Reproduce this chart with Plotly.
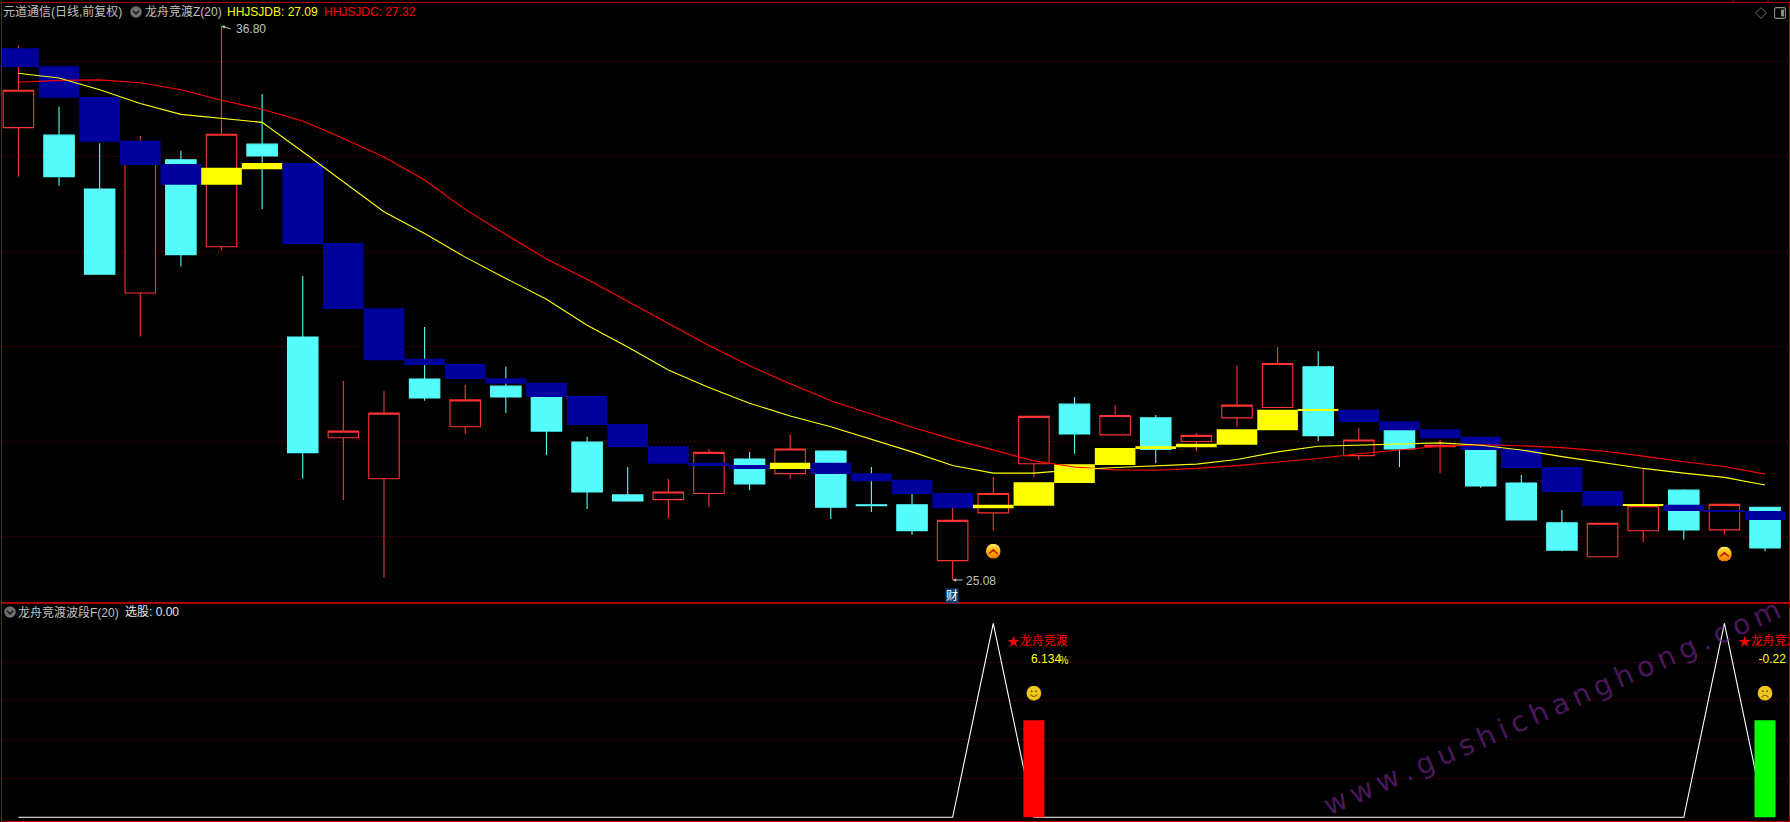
import base64
import plotly.graph_objects as go

W, H = 1790, 822

# ---- daily bars (index = trading day) ----
days = list(range(44))
opens = [34.65,34.49,33.35,31.15,33.97,32.13,34.30,30.22,28.09,27.22,29.33,28.32,29.18,29.10,28.00,26.88,26.78,26.91,27.64,27.33,27.81,26.67,26.67,25.49,26.50,27.54,28.80,28.15,28.51,28.01,28.51,28.73,29.59,27.71,28.25,27.90,27.94,27.13,26.29,25.57,26.12,26.98,26.14,26.62]
highs = [36.38,35.09,34.32,34.47,34.16,36.80,35.36,31.51,29.29,29.08,30.43,29.21,29.59,29.20,28.11,27.47,27.22,27.85,27.79,28.15,27.81,27.47,26.98,26.77,27.26,28.54,28.95,28.78,28.57,28.19,29.61,30.01,29.92,28.30,28.25,28.04,27.94,27.30,26.56,26.28,27.43,27.00,26.68,26.62]
lows = [33.61,33.42,31.55,30.23,31.71,32.05,32.93,27.22,26.77,25.13,28.87,28.17,28.61,27.72,26.58,26.75,26.39,26.62,26.98,27.22,26.37,26.52,26.03,25.08,26.12,27.26,27.75,28.15,27.55,27.81,28.32,28.73,28.02,27.62,27.47,27.34,27.03,26.35,25.69,25.57,25.88,25.93,26.05,25.69]
closes = [35.44,33.61,31.55,34.18,31.96,34.51,34.05,27.77,28.23,28.61,28.93,28.89,28.95,28.23,26.94,26.75,26.94,27.78,27.11,27.85,26.62,26.65,26.12,26.34,26.91,28.54,28.17,28.56,27.84,28.14,28.78,29.66,28.13,28.04,27.85,27.93,27.07,26.35,25.71,26.28,26.65,26.14,26.68,25.76]

# ---- indicator blocks (channel top / bottom, state) ----
block_top = [36.33,35.95,35.30,34.37,33.88,33.80,33.90,33.90,32.21,30.83,29.76,29.65,29.35,29.25,28.97,28.38,27.91,27.56,27.51,27.56,27.56,27.34,27.20,26.92,26.67,27.15,27.53,27.87,27.91,27.96,28.27,28.68,28.68,28.68,28.44,28.27,28.11,27.85,27.47,26.96,26.67,26.67,26.56,26.54]
block_bottom = [35.93,35.28,34.35,33.86,33.44,33.44,33.77,32.19,30.81,29.73,29.63,29.33,29.23,28.95,28.36,27.89,27.54,27.49,27.43,27.43,27.32,27.17,26.90,26.60,26.60,26.65,27.13,27.51,27.85,27.89,27.94,28.25,28.66,28.42,28.25,28.08,27.83,27.45,26.94,26.65,26.65,26.54,26.52,26.35]
block_up = [5,6,19,24,25,26,27,28,29,30,31,32,40]

# ---- moving lines ----
hhjsjdb = [35.80,35.70,35.45,35.16,34.93,34.85,34.76,34.14,33.51,32.87,32.41,31.91,31.46,31.02,30.47,30.01,29.52,29.15,28.82,28.55,28.32,28.06,27.79,27.50,27.34,27.34,27.41,27.46,27.49,27.53,27.63,27.79,27.91,27.93,27.96,27.98,27.93,27.83,27.69,27.56,27.44,27.34,27.25,27.09]
hhjsjdc = [35.61,35.65,35.66,35.60,35.45,35.23,35.04,34.79,34.42,34.03,33.54,32.92,32.39,31.87,31.44,30.97,30.50,30.04,29.61,29.23,28.87,28.59,28.31,28.06,27.83,27.60,27.47,27.41,27.40,27.44,27.50,27.57,27.65,27.75,27.83,27.91,27.94,27.92,27.88,27.81,27.70,27.58,27.48,27.32]
price_grid = [36.05,34.04,32.03,30.02,28.01,26.00]

# ---- lower panel ----
wave = [0]*44
wave[24] = 100
wave[42] = 100
signal_days = [25,43]
signal_vals = [50,50]
signal_colors = ["#FF0000","#00FF00"]
signal_pct = ["6.134","-0.22"]
lower_grid = [20,40,60,80]

GRID = "#8E0000"
BORDER = "#B00000"
GREY = "#C0C0C0"
BLUE = "#00009C"
YEL = "#FFFF00"
CYAN = "#54FCFC"
RED = "#FF3232"
FONT = "Liberation Sans, Noto Sans CJK SC"
LW = 1.1

x_range = [-0.404, 43.59]
main_range = [24.593, 37.286]
low_range = [-1.91, 110.46]

def svg(body, w=14, h=14):
    s = f'<svg xmlns="http://www.w3.org/2000/svg" width="{w*4}" height="{h*4}" viewBox="0 0 {w} {h}">{body}</svg>'
    return "data:image/svg+xml;base64," + base64.b64encode(s.encode()).decode()

grad = '<defs><linearGradient id="g" x1="0" y1="0" x2="0" y2="1"><stop offset="0" stop-color="#FFE868"/><stop offset="0.55" stop-color="#FFB000"/><stop offset="1" stop-color="#F07800"/></linearGradient></defs>'
coin = svg(grad + '<ellipse cx="7" cy="7" rx="6.8" ry="7" fill="url(#g)"/><path d="M2.6 9 L7 4.8 L11.4 9 L11.4 10.4 L7 7.2 L2.6 10.4 Z" fill="#C81808"/>')
faceb = '<circle cx="7" cy="7" r="6.8" fill="#F2C81E" stroke="#C89A10" stroke-width="0.5"/><circle cx="5" cy="5.2" r="0.9" fill="#7A5A00"/><circle cx="9" cy="5.2" r="0.9" fill="#7A5A00"/>'
smile = svg(faceb + '<path d="M3.8 8.2 Q7 12 10.2 8.2" stroke="#7A5A00" stroke-width="1" fill="none"/>')
frown = svg(faceb + '<path d="M3.8 11 Q7 7 10.2 11" stroke="#7A5A00" stroke-width="1.1" fill="none"/>')
drop = svg('<circle cx="6" cy="6" r="5.8" fill="#6E6E6E"/><path d="M3 4.8 L6 7.8 L9 4.8" stroke="#1C1C1C" stroke-width="1.6" fill="none"/>', 12, 12)
diamond = svg('<path d="M6 0.6 L11.4 6 L6 11.4 L0.6 6 Z" stroke="#8A8A8A" stroke-width="0.8" fill="none"/>', 12, 12)
panel = svg('<rect x="0.6" y="0.6" width="10.8" height="10.8" rx="1.6" stroke="#8A8A8A" stroke-width="1.1" fill="none"/><rect x="7" y="2.6" width="3" height="6.8" fill="#8A8A8A"/>', 12, 12)

fig = go.Figure()

fig.add_trace(go.Candlestick(
    x=days, open=opens, high=highs, low=lows, close=closes,
    xaxis="x", yaxis="y", whiskerwidth=0,
    increasing=dict(line=dict(color=RED, width=LW), fillcolor="#000000"),
    decreasing=dict(line=dict(color=CYAN, width=LW), fillcolor=CYAN),
))
fig.add_trace(go.Bar(
    x=days,
    y=[t - b for t, b in zip(block_top, block_bottom)],
    base=block_bottom, width=1,
    marker=dict(color=[YEL if d in block_up else BLUE for d in days], line=dict(width=0)),
    xaxis="x", yaxis="y2",
))
fig.add_trace(go.Scatter(x=days, y=hhjsjdc, mode="lines", line=dict(color="#FF0000", width=LW), xaxis="x", yaxis="y2"))
fig.add_trace(go.Scatter(x=days, y=hhjsjdb, mode="lines", line=dict(color=YEL, width=LW), xaxis="x", yaxis="y2"))

fig.add_trace(go.Scatter(x=days, y=wave, mode="lines", line=dict(color="#FFFFFF", width=LW), xaxis="x2", yaxis="y3"))
fig.add_trace(go.Bar(x=signal_days, y=signal_vals, width=0.517,
                     marker=dict(color=signal_colors, line=dict(width=0)), xaxis="x2", yaxis="y4"))
fig.add_trace(go.Scatter(x=[d - 0.5 for d in signal_days], y=[90.4]*2, mode="markers",
                         marker=dict(symbol="star", size=9, color="#FF0000"), xaxis="x2", yaxis="y4"))
fig.add_trace(go.Scatter(x=[d - 0.35 for d in signal_days], y=[90.4]*2, mode="text",
                         text=["龙舟竞渡"]*2, textposition="middle right",
                         textfont=dict(color="#FF0000", size=12, family=FONT), xaxis="x2", yaxis="y4"))
fig.add_trace(go.Scatter(x=[24.93, 42.84], y=[81]*2, mode="text",
                         text=signal_pct, textposition="middle right",
                         textfont=dict(color=YEL, size=12, family=FONT), xaxis="x2", yaxis="y4"))
fig.add_trace(go.Scatter(x=[25.63], y=[80.5], mode="text", text=["%"], textposition="middle right",
                         textfont=dict(color=YEL, size=10, family=FONT), xaxis="x2", yaxis="y4"))

def px_x(v): return v / W
def px_y(v): return 1 - v / H

def label(px, py, text, color=GREY, size=12):
    return dict(x=px_x(px), y=px_y(py), xref="paper", yref="paper", text=text, showarrow=False,
                xanchor="left", yanchor="middle", borderpad=0, borderwidth=0,
                font=dict(color=color, size=size, family=FONT))

annotations = [
    label(3, 12, "元道通信(日线,前复权)"),
    label(145, 12, "龙舟竞渡Z(20)"),
    label(227, 12, f"HHJSJDB: {hhjsjdb[-1]:.2f}", YEL),
    label(324, 12, f"HHJSJDC: {hhjsjdc[-1]:.2f}", "#FF0000"),
    label(18, 612, "龙舟竞渡波段F(20)"),
    label(125, 612, "选股: 0.00", "#E8E8E8"),
    dict(x=5, y=36.80, xref="x", yref="y", ax=12, ay=4, text=" ", showarrow=True, arrowhead=2,
         arrowsize=0.7, arrowwidth=1, arrowcolor=GREY),
    dict(x=23, y=25.08, xref="x", yref="y", ax=13, ay=0, text=" ", showarrow=True, arrowhead=2,
         arrowsize=0.7, arrowwidth=1, arrowcolor=GREY),
    dict(x=5.34, y=36.74, xref="x", yref="y", text="36.80", showarrow=False, xanchor="left", yanchor="middle",
         borderpad=0, font=dict(color=GREY, size=12, family=FONT)),
    dict(x=23.3, y=25.06, xref="x", yref="y", text="25.08", showarrow=False, xanchor="left", yanchor="middle",
         borderpad=0, font=dict(color=GREY, size=12, family=FONT)),
    dict(x=22.98, y=24.74, xref="x", yref="y", text="财", showarrow=False, xanchor="center", yanchor="middle",
         borderpad=0, bgcolor="#10406E", font=dict(color="#FFFFFF", size=12, family=FONT)),
    dict(x=px_x(1552), y=px_y(707), xref="paper", yref="paper", showarrow=False, textangle=-23.7,
         xanchor="center", yanchor="middle",
         text="\u2009".join("www.gushichanghong.com"),
         font=dict(color="rgba(125,40,155,0.6)", size=28, family="DejaVu Sans")),
]

def image(src, x, y, sx, sy, xref="paper", yref="paper"):
    return dict(source=src, x=x, y=y, sizex=sx, sizey=sy, xref=xref, yref=yref,
                xanchor="center", yanchor="middle", sizing="stretch", layer="above")

images = [
    image(drop, px_x(136), px_y(12), 12/W, 12/H),
    image(drop, px_x(10), px_y(612), 12/W, 12/H),
    image(diamond, px_x(1761), px_y(13), 12/W, 12/H),
    image(panel, px_x(1780), px_y(13), 12/W, 12/H),
    image(coin, 24, 25.69, 15/40.6, 15/47.27, "x", "y"),
    image(coin, 42, 25.63, 15/40.6, 15/47.27, "x", "y"),
    image(smile, 25, 64, 15/40.6, 15/1.94, "x2", "y3"),
    image(frown, 43, 64, 15/40.6, 15/1.94, "x2", "y3"),
]

axis_common = dict(showline=True, mirror=True, linecolor=BORDER, linewidth=1, ticks="",
                   showticklabels=False, zeroline=False, fixedrange=True)
x_dom = [2/W, 1789/W]

fig.update_layout(
    width=W, height=H,
    margin=dict(l=0, r=0, t=0, b=0),
    paper_bgcolor="#000000", plot_bgcolor="#000000",
    showlegend=False, hovermode=False, barmode="overlay",
    boxgap=0.25, boxgroupgap=0,
    annotations=annotations, images=images,
    shapes=[
        dict(type="line", xref="paper", yref="paper", x0=px_x(1733), x1=px_x(1733), y0=px_y(0), y1=px_y(3), line=dict(color=BORDER, width=1)),
        dict(type="line", xref="paper", yref="paper", x0=px_x(1768), x1=px_x(1768), y0=px_y(0), y1=px_y(3), line=dict(color=BORDER, width=1)),
    ],
    xaxis=dict(domain=x_dom, range=x_range, anchor="y", showgrid=False, rangeslider=dict(visible=False), **axis_common),
    xaxis2=dict(domain=x_dom, range=x_range, anchor="y3", showgrid=False, **axis_common),
    yaxis=dict(domain=[(H-603)/H, (H-3)/H], range=main_range, anchor="x", tickmode="array", tickvals=price_grid,
               showgrid=True, gridcolor=GRID, gridwidth=1, griddash="1px,3px", **axis_common),
    yaxis2=dict(domain=[(H-603)/H, (H-3)/H], range=main_range, anchor="x", overlaying="y", visible=False, fixedrange=True),
    yaxis3=dict(domain=[1/H, (H-603)/H], range=low_range, anchor="x2", tickmode="array", tickvals=lower_grid,
                showgrid=True, gridcolor=GRID, gridwidth=1, griddash="1px,3px", **axis_common),
    yaxis4=dict(domain=[1/H, (H-603)/H], range=low_range, anchor="x2", overlaying="y3", visible=False, fixedrange=True),
)

fig.write_html("out.html", config=dict(displayModeBar=False, responsive=False),
               post_script="document.body.style.margin='0';document.body.style.background='#000';document.body.style.overflow='hidden';")
